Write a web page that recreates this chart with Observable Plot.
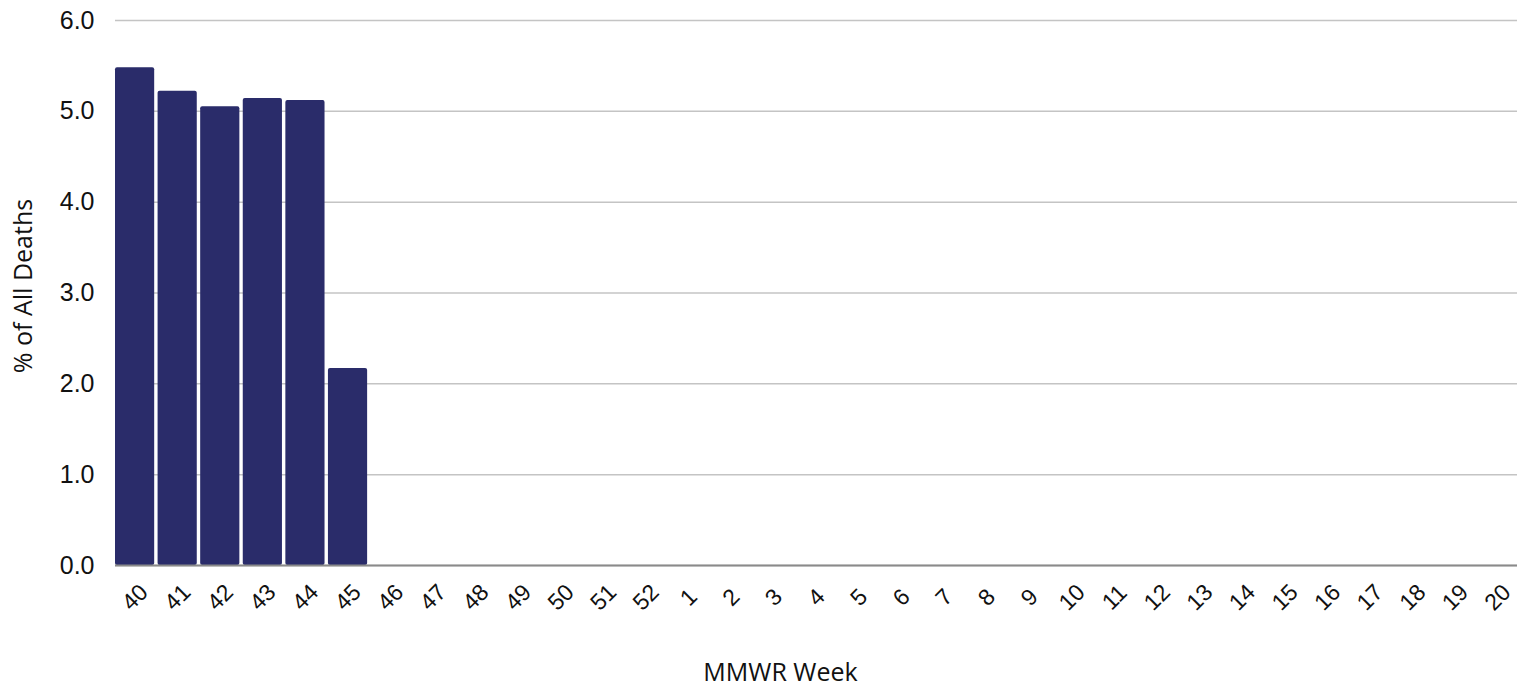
<!DOCTYPE html>
<html>
<head>
<meta charset="utf-8">
<script src="https://cdn.jsdelivr.net/npm/d3@7"></script>
<script src="https://cdn.jsdelivr.net/npm/@observablehq/plot@0.6"></script>
<style>
  html, body { margin: 0; padding: 0; background: #fff; }
  #chart { width: 1529px; height: 688px; }
</style>
</head>
<body>
<div id="chart"></div>
<script>
const weeks = ["40","41","42","43","44","45","46","47","48","49","50","51","52",
  "1","2","3","4","5","6","7","8","9","10","11","12","13","14","15","16","17","18","19","20"];
const percentDeaths = [5.48, 5.22, 5.05, 5.14, 5.12, 2.17,
  null, null, null, null, null, null, null,
  null, null, null, null, null, null, null, null, null, null, null, null, null, null, null, null, null, null, null, null];
const yTicks = [0, 1, 2, 3, 4, 5, 6];
const yTitle = "% of All Deaths";
const xTitle = "MMWR Week";

const data = weeks.map((w, i) => ({week: w, value: percentDeaths[i]}));
const bars = data.filter(d => d.value != null);

const chart = Plot.plot({
  width: 1529,
  height: 688,
  marginTop: 20,
  marginBottom: 123,
  marginLeft: 115,
  marginRight: 12,
  style: {fontFamily: "'Liberation Sans', Arial, sans-serif", background: "#fff"},
  x: {domain: weeks, type: "band", paddingInner: 0.08, paddingOuter: 0, round: false},
  y: {domain: [0, 6]},
  marks: [
    Plot.gridY(yTicks, {stroke: "#c4c4c4", strokeOpacity: 1, strokeWidth: 1.5}),
    Plot.axisY(yTicks, {
      tickSize: 0, tickPadding: 21, fontSize: 25, tickFormat: d3.format(".1f"),
      label: null, fill: "#111"
    }),
    Plot.text([yTitle], {
      frameAnchor: "left", dx: -92, dy: -7, rotate: -90, fontSize: 25,
      textAnchor: "middle", lineAnchor: "middle",
      fontFamily: "'Open Sans', 'Noto Sans', sans-serif", fill: "#111"
    }),
    Plot.barY(bars, {x: "week", y: "value", fill: "#2a2c6a", rx: 2}),
    Plot.ruleY([0], {stroke: "#8a8a8a", strokeWidth: 2}),
    Plot.axisX({ticks: [], label: null, tickSize: 0}),
    Plot.text(weeks, {
      x: d => d, frameAnchor: "bottom", dy: 32, rotate: -45,
      text: d => d, fontSize: 23, textAnchor: "middle", lineAnchor: "middle", fill: "#111"
    }),
    Plot.text([xTitle], {
      frameAnchor: "bottom", dx: -36, dy: 107, lineAnchor: "middle", fontSize: 25,
      fontFamily: "'Open Sans', 'Noto Sans', sans-serif", fill: "#111"
    })
  ]
});
document.getElementById("chart").appendChild(chart);
</script>
</body>
</html>
